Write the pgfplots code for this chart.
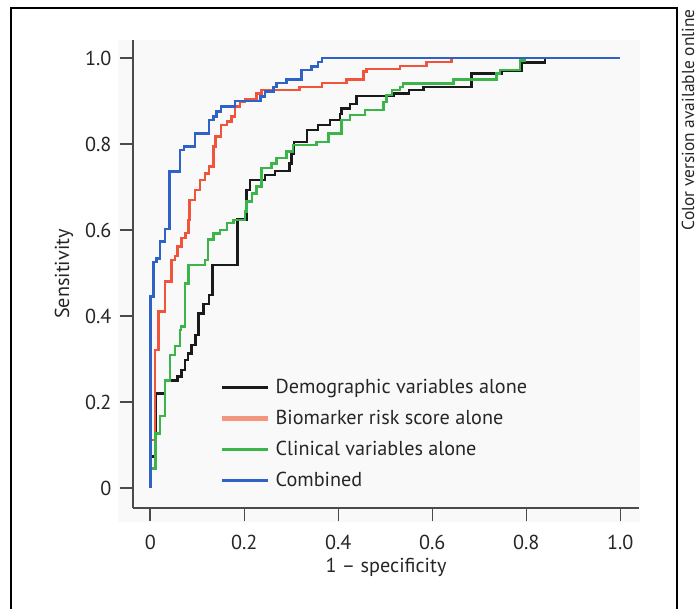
\documentclass[border=0pt]{standalone}
\usepackage{fontspec}
\setmainfont{PT Sans}
\usepackage{pgfplots}
\pgfplotsset{compat=1.18}
\definecolor{rocblack}{HTML}{1A1A1A}
\definecolor{rocred}{HTML}{F0553C}
\definecolor{rocsalmon}{HTML}{F4967E}
\definecolor{rocgreen}{HTML}{3BB54A}
\definecolor{rocblue}{HTML}{2E62C6}
\definecolor{axisgray}{HTML}{4A4A4A}
\definecolor{panelbg}{HTML}{F9F9F9}
\newcommand\figfont{\fontsize{20.2bp}{24bp}\selectfont}

\begin{document}
\begin{tikzpicture}[x=1bp,y=1bp]
% faint panel and outer frame
\fill[panelbg] (118,87) rectangle (640,569);
\draw[line width=1.3bp] (11,0) -- (11,601) -- (677,601) -- (677,0);
\node[rotate=90, anchor=east, inner sep=0pt, text=black!85,
      font=\fontsize{17.4bp}{20bp}\selectfont] at (688,600) {Color version available online};

\begin{axis}[
  at={(133bp,101bp)}, anchor=south west,
  scale only axis, width=506bp, height=468bp,
  xmin=-0.0368, xmax=1.0398, ymin=-0.0465, ymax=1.0419,
  axis x line*=bottom, axis y line*=left,
  axis line style={axisgray, line width=1.8bp},
  tick style={axisgray, line width=1.6bp},
  tick align=outside, major tick length=13bp,
  xtick={0,0.2,0.4,0.6,0.8,1}, xticklabels={0,0.2,0.4,0.6,0.8,1.0},
  ytick={0,0.2,0.4,0.6,0.8,1}, yticklabels={0,0.2,0.4,0.6,0.8,1.0},
  xticklabel shift=11bp, yticklabel shift=5bp,
  tick label style={font=\figfont, text=black!85},
  xlabel={1 -- specificity}, ylabel={Sensitivity},
  ylabel shift=5bp, xlabel shift=1bp,
  label style={font=\figfont, text=black!85},
  legend style={draw=none, fill=none, font=\figfont, text=black!85,
    at={(axis cs:0.1398,0.262)}, anchor=north west, row sep=11.2bp,
    column sep=3bp},
  legend cell align=left,
  legend image code/.code={\draw[#1] (0bp,0bp) -- (46bp,0bp);},
]
% Demographic variables alone
\addplot[const plot, rocblack, line width=2.6bp, forget plot] coordinates {
 (0,0) (0,0.073) (0.0115,0.22) (0.031,0.25) (0.058,0.259) (0.067,0.274)
 (0.074,0.298) (0.08,0.313) (0.088,0.333) (0.0965,0.356) (0.102,0.406)
 (0.113,0.428) (0.125,0.449) (0.132,0.519) (0.186,0.625) (0.205,0.693)
 (0.212,0.716) (0.244,0.728) (0.265,0.737) (0.296,0.755) (0.301,0.778)
 (0.306,0.805) (0.333,0.833) (0.357,0.844) (0.382,0.856) (0.404,0.87)
 (0.407,0.883) (0.425,0.893) (0.439,0.912) (0.517,0.918) (0.55,0.926)
 (0.581,0.933) (0.684,0.964) (0.748,0.971) (0.79,0.99) (0.84,1.0) (0.84,1.0)};
% Biomarker risk score alone
\addplot[const plot, rocred, line width=2.6bp, forget plot] coordinates {
 (0,0) (0,0.112) (0.01,0.321) (0.018,0.41) (0.031,0.48) (0.0455,0.53)
 (0.0526,0.54) (0.058,0.561) (0.067,0.581) (0.075,0.593) (0.081,0.623)
 (0.084,0.67) (0.095,0.693) (0.106,0.716) (0.116,0.732) (0.125,0.748)
 (0.134,0.794) (0.139,0.817) (0.150,0.844) (0.163,0.852) (0.173,0.864)
 (0.18,0.887) (0.191,0.898) (0.2015,0.904) (0.226,0.918) (0.237,0.926)
 (0.318,0.933) (0.365,0.942) (0.418,0.95) (0.453,0.968) (0.46,0.974)
 (0.531,0.981) (0.588,0.991) (0.641,1.0) (0.641,1.0)};
% Clinical variables alone
\addplot[const plot, rocgreen, line width=2.6bp, forget plot] coordinates {
 (0,0) (0,0.046) (0.011,0.127) (0.0206,0.167) (0.031,0.25) (0.042,0.309)
 (0.0525,0.33) (0.063,0.367) (0.065,0.375) (0.074,0.476) (0.081,0.519)
 (0.116,0.53) (0.123,0.578) (0.134,0.592) (0.148,0.6) (0.163,0.616)
 (0.177,0.623) (0.2015,0.643) (0.205,0.666) (0.216,0.685) (0.226,0.701)
 (0.237,0.744) (0.258,0.755) (0.269,0.767) (0.29,0.782) (0.304,0.798)
 (0.354,0.805) (0.379,0.825) (0.407,0.856) (0.425,0.867) (0.457,0.879)
 (0.496,0.898) (0.503,0.914) (0.514,0.926) (0.531,0.933) (0.538,0.941)
 (0.645,0.95) (0.737,0.964) (0.744,0.972) (0.787,0.994) (0.797,1.0) (0.797,1.0)};
% Combined
\addplot[const plot, rocblue, line width=2.6bp, forget plot] coordinates {
 (0,0) (0,0.445) (0.0064,0.526) (0.0136,0.534) (0.0206,0.573) (0.031,0.602)
 (0.0404,0.736) (0.063,0.786) (0.072,0.794) (0.095,0.825) (0.125,0.856)
 (0.134,0.864) (0.141,0.875) (0.150,0.887) (0.180,0.9) (0.234,0.91)
 (0.244,0.922) (0.262,0.933) (0.269,0.942) (0.29,0.95) (0.322,0.972)
 (0.343,0.98) (0.357,0.991) (0.365,1.0) (1.0,1.0)};

\addlegendimage{rocblack, line width=2.8bp}
\addlegendentry{Demographic variables alone}
\addlegendimage{rocsalmon, line width=5.5bp}
\addlegendentry{Biomarker risk score alone}
\addlegendimage{rocgreen, line width=2.8bp}
\addlegendentry{Clinical variables alone}
\addlegendimage{rocblue, line width=3bp}
\addlegendentry{Combined}
\end{axis}
\pgfresetboundingbox
\useasboundingbox (0,0) rectangle (700,609);
\end{tikzpicture}
\end{document}
